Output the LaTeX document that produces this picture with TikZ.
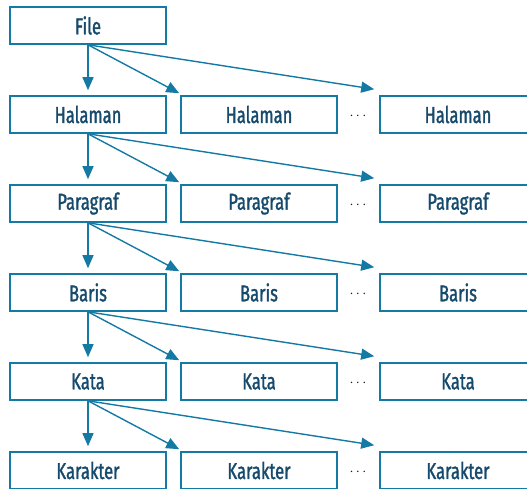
\documentclass[tikz,border=0pt]{standalone}
\definecolor{levelBlue}{RGB}{20,122,164}
\definecolor{labelBlue}{RGB}{22,74,108}
\usepackage{fontspec}
\setmainfont{Fira Sans}[FakeStretch=0.72,FakeBold=1.3]
\usepackage{tikz}
\usetikzlibrary{arrows.meta,calc}

\begin{document}
\begin{tikzpicture}[x=1pt,y=-1pt,
                level/.style={draw=levelBlue,line width=1.6pt,minimum width=156pt,
                              minimum height=37pt,inner sep=0pt,text=labelBlue,
                              font=\fontsize{23}{26}\selectfont},
                link/.style={draw=levelBlue,line width=1.4pt,
                             -{Triangle[length=13pt,width=11pt]}},
                more/.style={font=\Large,text=black!90}
            ]
                \useasboundingbox (0,0) rectangle (527,488);
                \clip (0,0) rectangle (527,488);
                % level 0
                \node[level] (file) at (88,25.5) {File};
                % level 1
                \node[level] (hal1) at (88,114.5) {Halaman};
                \node[level] (hal2) at (259,114.5) {Halaman};
                \node[more] (halDots) at (358,116.5) {$\cdots$};
                \node[level] (hal3) at (458,114.5) {Halaman};
                % level 2
                \node[level] (par1) at (88,203.5) {Paragraf};
                \node[level] (par2) at (259,203.5) {Paragraf};
                \node[more] (parDots) at (358,205.5) {$\cdots$};
                \node[level] (par3) at (458,203.5) {Paragraf};
                % level 3
                \node[level] (bar1) at (88,292.5) {Baris};
                \node[level] (bar2) at (259,292.5) {Baris};
                \node[more] (barDots) at (358,294.5) {$\cdots$};
                \node[level] (bar3) at (458,292.5) {Baris};
                % level 4
                \node[level] (kat1) at (88,381.5) {Kata};
                \node[level] (kat2) at (259,381.5) {Kata};
                \node[more] (katDots) at (358,383.5) {$\cdots$};
                \node[level] (kat3) at (458,381.5) {Kata};
                % level 5
                \node[level] (kar1) at (88,470.5) {Karakter};
                \node[level] (kar2) at (259,470.5) {Karakter};
                \node[more] (karDots) at (358,472.5) {$\cdots$};
                \node[level] (kar3) at (458,470.5) {Karakter};

                % links
                \draw[link,shorten >=5pt] (file.south) -- (hal1.north);
                \draw[link] (file.south) -- ($(hal2.north west)+(-1,-2)$);
                \draw[link] (file.south) -- ($(hal3.north west)+(-5,-6)$);
                \draw[link,shorten >=5pt] (hal1.south) -- (par1.north);
                \draw[link] (hal1.south) -- ($(par2.north west)+(-1,-2)$);
                \draw[link] (hal1.south) -- ($(par3.north west)+(-5,-6)$);
                \draw[link,shorten >=5pt] (par1.south) -- (bar1.north);
                \draw[link] (par1.south) -- ($(bar2.north west)+(-1,-2)$);
                \draw[link] (par1.south) -- ($(bar3.north west)+(-5,-6)$);
                \draw[link,shorten >=5pt] (bar1.south) -- (kat1.north);
                \draw[link] (bar1.south) -- ($(kat2.north west)+(-1,-2)$);
                \draw[link] (bar1.south) -- ($(kat3.north west)+(-5,-6)$);
                \draw[link,shorten >=5pt] (kat1.south) -- (kar1.north);
                \draw[link] (kat1.south) -- ($(kar2.north west)+(-1,-2)$);
                \draw[link] (kat1.south) -- ($(kar3.north west)+(-5,-6)$);
            \end{tikzpicture}
\end{document}
